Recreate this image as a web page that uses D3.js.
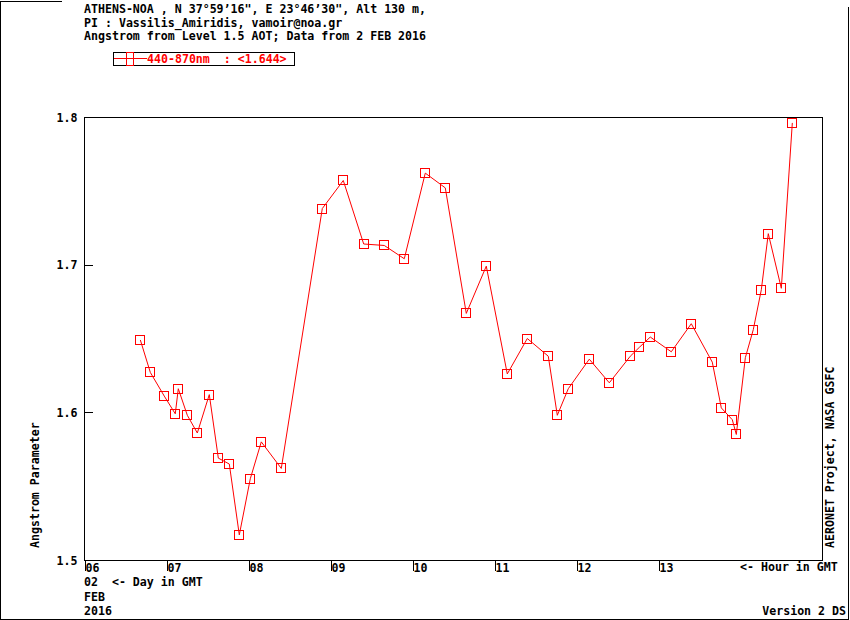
<!DOCTYPE html>
<html>
<head>
<meta charset="utf-8">
<script src="https://cdn.jsdelivr.net/npm/d3@7"></script>
<style>
html,body{margin:0;padding:0;background:#fff;}
svg text{font-family:"DejaVu Sans Mono",monospace;font-weight:bold;font-size:11.6px;white-space:pre;}
</style>
</head>
<body>
<svg id="chart" width="850" height="620"></svg>
<script>
const titleLines = [
  "ATHENS-NOA , N 37\u00B059\u201916\", E 23\u00B046\u201930\", Alt 130 m,",
  "PI : Vassilis_Amiridis, vamoir@noa.gr",
  "Angstrom from Level 1.5 AOT; Data from 2 FEB 2016"
];
const legendLabel = "440-870nm  : <1.644>";
const yTicks = [1.5, 1.6, 1.7, 1.8];
const xTicks = [6, 7, 8, 9, 10, 11, 12, 13];
const xTickLabels = ["06", "07", "08", "09", "10", "11", "12", "13"];

const hours = [6.687, 6.809, 6.979, 7.113, 7.150, 7.260, 7.382, 7.528, 7.638, 7.772,
  7.894, 8.028, 8.162, 8.406, 8.906, 9.162, 9.411, 9.662, 9.906, 10.162,
  10.406, 10.662, 10.906, 11.162, 11.406, 11.662, 11.772, 11.906, 12.162, 12.406,
  12.662, 12.772, 12.906, 13.162, 13.406, 13.662, 13.772, 13.906, 13.955, 14.065,
  14.162, 14.260, 14.345, 14.504, 14.638];
const angstrom = [1.649, 1.627, 1.611, 1.599, 1.616, 1.598, 1.586, 1.612, 1.569, 1.565,
  1.517, 1.555, 1.580, 1.562, 1.738, 1.757, 1.714, 1.713, 1.704, 1.762,
  1.752, 1.667, 1.699, 1.626, 1.650, 1.638, 1.598, 1.616, 1.636, 1.620,
  1.638, 1.644, 1.651, 1.641, 1.660, 1.634, 1.603, 1.595, 1.585, 1.637,
  1.656, 1.683, 1.721, 1.684, 1.796];

const data = hours.map((h, i) => ({h: h, v: angstrom[i]}));
const svg = d3.select("#chart");
const L = 84, R = 822, T = 117, B = 560;
const x = d3.scaleLinear().domain([6, 15]).range([L, R]);
const y = d3.scaleLinear().domain([1.5, 1.8]).range([B, T]);
const FONT = "11.6px";

// outer border
const border = svg.append("g").attr("stroke", "#000").attr("stroke-width", 1).attr("shape-rendering", "crispEdges");
border.append("line").attr("x1", 0.5).attr("y1", 0.5).attr("x2", 0.5).attr("y2", 619.5);
border.append("line").attr("x1", 0.5).attr("y1", 619.5).attr("x2", 848.5).attr("y2", 619.5);
border.append("line").attr("x1", 848.5).attr("y1", 7).attr("x2", 848.5).attr("y2", 619.5);
border.append("line").attr("x1", 0.5).attr("y1", 1.5).attr("x2", 62).attr("y2", 1.5);

// titles
svg.selectAll("text.title").data(titleLines).enter().append("text")
  .attr("class", "title").attr("x", 84).attr("y", (d, i) => [13, 27, 40][i])
  .attr("fill", "#000").text(d => d);

// legend
const lg = svg.append("g").attr("shape-rendering", "crispEdges");
lg.append("rect").attr("x", 113.5).attr("y", 52.5).attr("width", 181).attr("height", 13)
  .attr("fill", "none").attr("stroke", "#000");
lg.append("line").attr("x1", 114).attr("x2", 147).attr("y1", 58.5).attr("y2", 58.5).attr("stroke", "red");
lg.append("rect").attr("x", 126.5).attr("y", 52.5).attr("width", 7).attr("height", 13)
  .attr("fill", "none").attr("stroke", "red");
lg.append("text").attr("x", 147).attr("y", 63).attr("fill", "red").attr("xml:space", "preserve").text(legendLabel);

// plot frame
svg.append("rect").attr("x", L + 0.5).attr("y", T + 0.5).attr("width", R - L).attr("height", B - T)
  .attr("fill", "none").attr("stroke", "#000").attr("shape-rendering", "crispEdges");

// y axis ticks
const yAxis = d3.axisLeft(y).tickValues(yTicks).tickSizeInner(-8).tickSizeOuter(0).tickPadding(7)
  .tickFormat(d3.format(".1f"));
const gy = svg.append("g").attr("transform", `translate(${L + 0.5},0)`).call(yAxis);
gy.select(".domain").remove();
gy.selectAll("line").attr("stroke", "#000").attr("shape-rendering", "crispEdges");
gy.selectAll("text").attr("fill", "#000").attr("dy", "0.36em")
  .style("font-family", "DejaVu Sans Mono").style("font-weight", "bold").style("font-size", FONT);

// x axis ticks
const xAxis = d3.axisBottom(x).tickValues(xTicks).tickSizeInner(10).tickSizeOuter(0)
  .tickFormat((d, i) => xTickLabels[i]);
const gx = svg.append("g").attr("transform", `translate(0,${B + 0.5})`).call(xAxis);
gx.select(".domain").remove();
gx.selectAll(".tick line").attr("stroke", "#000").attr("shape-rendering", "crispEdges")
  .attr("transform", "translate(0.5,0)");
gx.selectAll("text").attr("fill", "#000").attr("text-anchor", "start").attr("x", 1).attr("y", 11).attr("dy", 0)
  .style("font-family", "DejaVu Sans Mono").style("font-weight", "bold").style("font-size", FONT);

// axis notes
svg.append("text").attr("x", x(14)).attr("y", 571).text("<- Hour in GMT");
svg.append("text").attr("x", 84).attr("y", 586).attr("xml:space", "preserve").text("02  <- Day in GMT");
svg.append("text").attr("x", 84).attr("y", 601).text("FEB");
svg.append("text").attr("x", 84).attr("y", 615).text("2016");
svg.append("text").attr("x", 846).attr("y", 615).attr("text-anchor", "end").text("Version 2 DS");
svg.append("text").attr("transform", "translate(39,548) rotate(-90)").text("Angstrom Parameter");
svg.append("text").attr("transform", "translate(834,548) rotate(-90)").text("AERONET Project, NASA GSFC");

// series line
const line = d3.line().x(d => x(d.h)).y(d => y(d.v));
svg.append("path").datum(data).attr("d", line).attr("fill", "none").attr("stroke", "red").attr("stroke-width", 1);

// markers
svg.append("g").selectAll("rect").data(data).enter().append("rect")
  .attr("x", d => Math.round(x(d.h)) - 4.5).attr("y", d => Math.round(y(d.v)) - 4.5)
  .attr("width", 9).attr("height", 9).attr("fill", "none").attr("stroke", "red")
  .attr("shape-rendering", "crispEdges");
</script>
</body>
</html>
